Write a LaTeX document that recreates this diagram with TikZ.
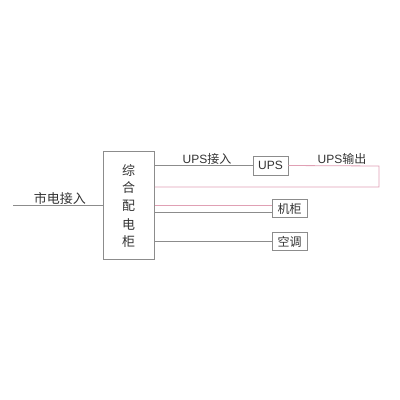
\documentclass[tikz,border=0pt]{standalone}
\usepackage{fontspec}
\setmainfont{Liberation Sans}
\newfontfamily\cjk{Noto Sans CJK SC}
\definecolor{lg}{HTML}{8C8C8C}
\definecolor{pk}{HTML}{E0A0B4}
\definecolor{tx}{HTML}{333333}
\begin{document}
\begin{tikzpicture}[x=1pt,y=-1pt,
  boxst/.style={draw=lg,line width=0.8pt,fill=white,inner sep=0pt,minimum width=35pt,minimum height=18pt,font=\fontsize{12}{12}\selectfont\cjk,text=tx},
  gline/.style={draw=lg,line width=0.8pt},
  pline/.style={draw=pk,line width=0.8pt},
  lab/.style={font=\fontsize{12}{12}\selectfont,text=tx,inner sep=0pt}]
\useasboundingbox (0,0) rectangle (400,400);
% main cabinet
\node[draw=lg,line width=0.8pt,minimum width=51pt,minimum height=108pt,inner sep=0pt,anchor=north west] (main) at (103,151) {};
\foreach \c [count=\i] in {综,合,配,电,柜}{
  \node[lab,font=\fontsize{13}{13}\selectfont\cjk] (m\i) at (128.5,152+18*\i) {\c};
}
% boxes
\node[boxst,minimum width=35pt,minimum height=19pt] (ups) at (270.5,165.5) {\fontspec{Liberation Sans}UPS};
\node[boxst] (jg) at (289.5,208.5) {机柜};
\node[boxst] (kt) at (289.5,241.5) {空调};
% coordinates
\coordinate (in0) at (13,205);
\coordinate (r1) at (379,166);
\coordinate (r2) at (379,187);
% input line
\draw[gline] (in0) -- (main.west |- in0);
\node[lab,font=\fontsize{13}{13}\selectfont\cjk] (lin) at (60,199) {市电接入};
% UPS input
\draw[gline] (main.east |- ups.west) -- (ups.west);
\node[lab] (lupsin) at (207,159) {UPS{\cjk 接入}};
% UPS output loop
\draw[pline] (ups.east) -- (r1) -- (r2) -- (main.east |- r2);
\node[lab] (lupsout) at (342,159) {UPS{\cjk 输出}};
% to cabinet
\draw[pline] (main.east |- 0,205) -- (jg.west |- 0,205);
\draw[gline] (main.east |- 0,212) -- (jg.west |- 0,212);
% to air conditioner
\draw[gline] (main.east |- kt.west) -- (kt.west);
\end{tikzpicture}
\end{document}
